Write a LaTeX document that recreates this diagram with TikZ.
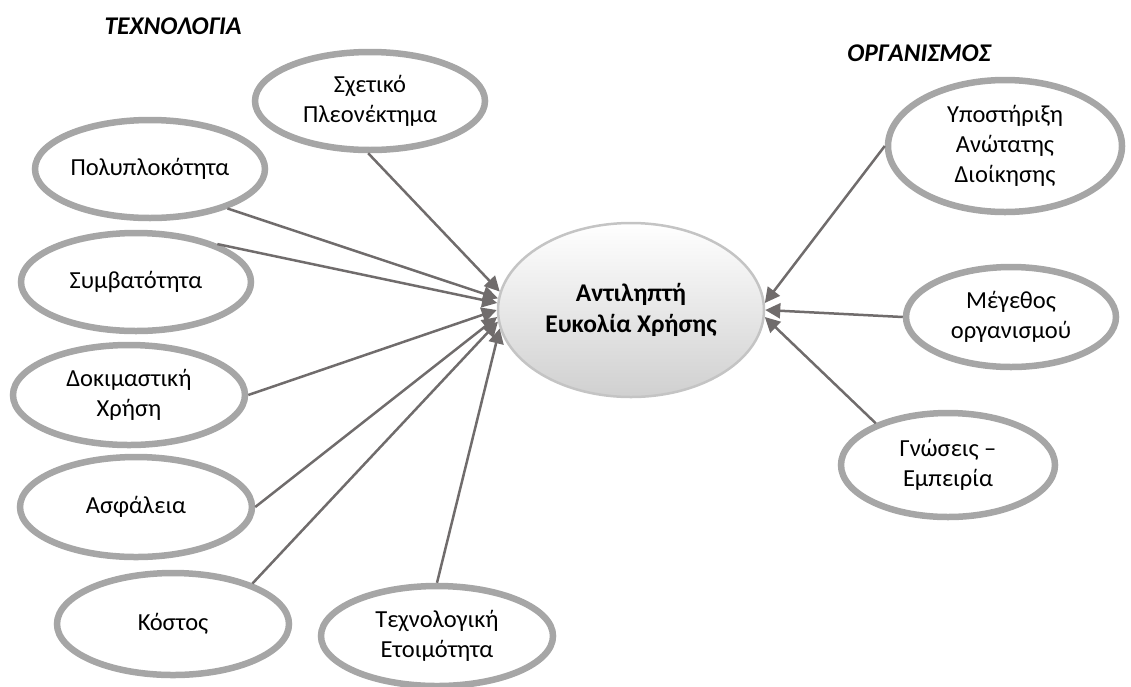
\documentclass[tikz,border=0pt]{standalone}
\usepackage{fontspec}
\setmainfont{Carlito}
\usetikzlibrary{shapes.geometric,arrows.meta,shadows}
\definecolor{ringgray}{RGB}{166,166,166}
\definecolor{linkgray}{RGB}{112,108,108}
\definecolor{hubedge}{RGB}{196,196,196}
\definecolor{hubbottom}{RGB}{208,208,208}
\begin{document}
\begin{tikzpicture}[x=1pt,y=-1pt,
  factor/.style={ellipse,draw=ringgray,line width=6.5pt,fill=white,inner sep=0pt,
    align=center,font=\fontsize{24.5}{30}\selectfont,minimum width=230pt,minimum height=98pt},
  hub/.style={ellipse,draw=hubedge,line width=2.5pt,inner sep=0pt,
    top color=white,bottom color=hubbottom,align=center,
    font=\fontsize{25.5}{31}\selectfont\bfseries,minimum width=266pt,minimum height=174pt},
  heading/.style={font=\fontsize{25.5}{31}\selectfont\bfseries\itshape,inner sep=0pt},
  link/.style={draw=linkgray,line width=2.5pt,-{Triangle[length=15pt,width=15pt]}}]
\useasboundingbox (0,0) rectangle (1131,686);

% group headings
\node[heading] (hTech) at (173,26) {ΤΕΧΝΟΛΟΓΙΑ};
\node[heading] (hOrg) at (919,53) {ΟΡΓΑΝΙΣΜΟΣ};

% central concept
\node[hub] (c) at (631,310) {Αντιληπτή\\Ευκολία Χρήσης};

% technology factors
\node[factor] (sx) at (370,101) {Σχετικό\\Πλεονέκτημα};
\node[factor] (poly) at (150,169) {Πολυπλοκότητα};
\node[factor] (symb) at (136,282) {Συμβατότητα};
\node[factor,minimum width=232pt,minimum height=100pt] (dok) at (129,395) {Δοκιμαστική\\Χρήση};
\node[factor,minimum width=232pt,minimum height=100pt] (asf) at (136,507) {Ασφάλεια};
\node[factor,minimum width=232pt,minimum height=102pt] (kost) at (173,624) {Κόστος};
\node[factor,minimum width=232pt,minimum height=100pt] (tech) at (437,636) {Τεχνολογική\\Ετοιμότητα};

% organisation factors
\node[factor,minimum width=234pt,minimum height=132pt] (ypo) at (1005,146) {Υποστήριξη\\Ανώτατης\\Διοίκησης};
\node[factor,minimum width=210pt,minimum height=100pt] (meg) at (1011,317) {Μέγεθος\\οργανισμού};
\node[factor,minimum width=214pt,minimum height=104pt] (gno) at (948,465) {Γνώσεις –\\Εμπειρία};

% connectors into the central concept
\draw[link] (sx.268) -- (c.172);
\draw[link] (poly.-27) -- (c.175);
\draw[link] (symb.25) -- (c.177);
\draw[link] (dok.east) -- (c.180);
\draw[link] (asf.east) -- (c.183);
\draw[link] (kost.27) -- (c.185);
\draw[link] (tech.north) -- (c.188);
\draw[link] (ypo.west) -- (c.3);
\draw[link] (meg.west) -- (c.0);
\draw[link] (gno.150) -- (c.-3);
\end{tikzpicture}
\end{document}
